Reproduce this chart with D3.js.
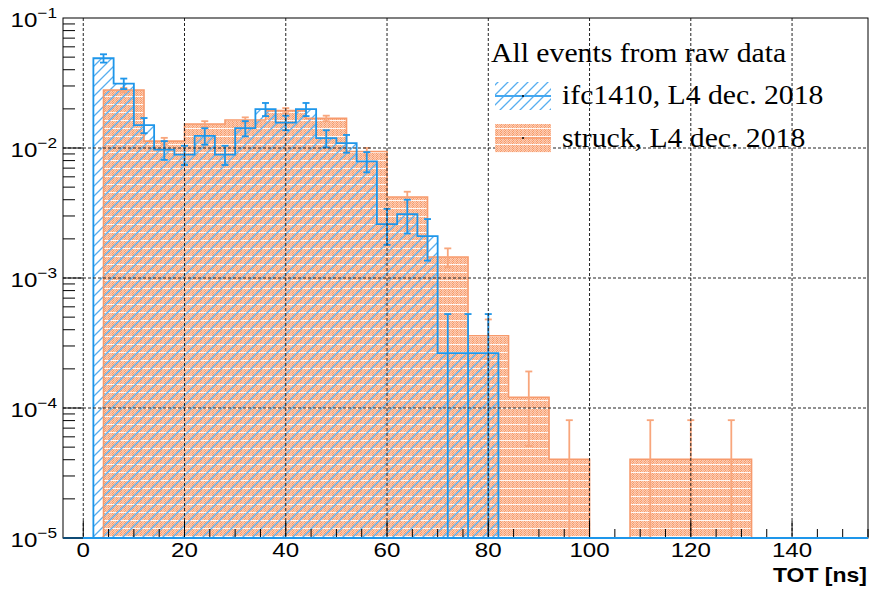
<!DOCTYPE html>
<html><head><meta charset="utf-8">
<script src="https://cdn.jsdelivr.net/npm/d3@7"></script>
<style>body{margin:0;background:#fff}</style></head>
<body><svg id="c" width="874" height="591"></svg>
<script>
// ---- data ----
const blueLabel = "ifc1410, L4 dec. 2018";
const orangeLabel = "struck, L4 dec. 2018";
const legendTitle = "All events from raw data";
const xTitle = "TOT [ns]";
const blueBinWidth = 4;
const blueBinLow = [2,6,10,14,18,22,26,30,34,38,42,46,50,54,58,62,66,70,74,78];
const blueValues = [0.049,0.0313,0.0150,0.0097,0.0089,0.0124,0.0089,0.0142,0.0199,0.0157,0.0199,0.0119,0.0109,0.0079,0.0026,0.0031,0.0021,0.000264,0.000264,0.000264];
const blueErrors = [0.0036,0.0029,0.0020,0.0016,0.0015,0.0018,0.0015,0.0019,0.0023,0.0020,0.0023,0.0018,0.0017,0.0014,0.0008,0.0009,0.00074,0.000264,0.000264,0.000264];
const orangeBinWidth = 8;
const orangeBinLow = [4,12,20,28,36,44,52,60,68,76,84,92,100,108,116,124];
const orangeValues = [0.0279,0.0113,0.0153,0.0164,0.0194,0.0169,0.0094,0.0042,0.00145,0.00036,0.000121,0.0000403,0,0.0000403,0.0000403,0.0000403];
const orangeErrors = [0.00106,0.00067,0.00078,0.00081,0.00088,0.00083,0.00061,0.00041,0.00024,0.00012,0.00007,0.0000403,0,0.0000403,0.0000403,0.0000403];
const xTicks = [0,20,40,60,80,100,120,140];
const yTicks = [1e-5,1e-4,1e-3,1e-2,1e-1];
const yTickLabels = ["\u22125","\u22124","\u22123","\u22122","\u22121"];

// ---- layout ----
const L = 63, R = 868, T = 18, B = 538;
const blueCol = "#1e96ea", blueHatch = "#56aef0";
const orangeLine = "#f79a6c", orangeErr = "#f8a67c";

const svg = d3.select("#c");
const x = d3.scaleLinear().domain([-4,155]).range([L,R]);
const y = d3.scaleLog().domain([1e-5,1e-1]).range([B,T]);
const yv = v => v > 0 ? Math.min(B, y(v)) : B;

const defs = svg.append("defs");
const hp = defs.append("pattern").attr("id","hatch").attr("patternUnits","userSpaceOnUse")
  .attr("width",10).attr("height",10);
hp.append("path").attr("d","M-1,1 L1,-1 M0,10 L10,0 M9,11 L11,9")
  .attr("stroke",blueHatch).attr("stroke-width",1.3).attr("fill","none");
const op = defs.append("pattern").attr("id","orng").attr("patternUnits","userSpaceOnUse")
  .attr("width",4).attr("height",8);
op.append("rect").attr("width",4).attr("height",8).attr("fill","#fdcdb4");
for (let r = 1; r < 8; r++) {
  op.append("rect").attr("x", r%2 ? 0 : 1).attr("y",r).attr("width",1).attr("height",1).attr("fill","#f69a68");
  op.append("rect").attr("x", r%2 ? 2 : 3).attr("y",r).attr("width",1).attr("height",1).attr("fill","#f9b08c");
}
op.append("rect").attr("x",0).attr("y",0).attr("width",4).attr("height",1).attr("fill","#fff").attr("opacity",0.85);
defs.append("clipPath").attr("id","clip").append("rect").attr("x",L).attr("y",T).attr("width",R-L).attr("height",B-T);

function stepPath(lows, vals, w) {
  let d = `M${x(lows[0])},${B}`;
  lows.forEach((lo,i) => {
    d += `L${x(lo)},${yv(vals[i])}L${x(lo+w)},${yv(vals[i])}`;
  });
  d += `L${x(lows[lows.length-1]+w)},${B}`;
  return d;
}

const g = svg.append("g").attr("clip-path","url(#clip)");
g.append("path").attr("d", stepPath(orangeBinLow, orangeValues, orangeBinWidth) + "Z").attr("fill","url(#orng)");
g.append("path").attr("d", stepPath(blueBinLow, blueValues, blueBinWidth) + "Z").attr("fill","url(#hatch)");

// grid
const grid = svg.append("g").attr("stroke","#222").attr("stroke-width",1).attr("stroke-dasharray","3,2");
xTicks.forEach(t => grid.append("line").attr("x1",x(t)).attr("x2",x(t)).attr("y1",T).attr("y2",B));
yTicks.slice(1,4).forEach(t => grid.append("line").attr("x1",L).attr("x2",R).attr("y1",y(t)).attr("y2",y(t)));

g.append("path").attr("d", stepPath(orangeBinLow, orangeValues, orangeBinWidth)).attr("fill","none")
  .attr("stroke",orangeLine).attr("stroke-width",1.6);
function errBars(lows, vals, errs, w, col, capW) {
  const eg = g.append("g").attr("stroke",col).attr("stroke-width",1.8).attr("fill","none");
  lows.forEach((lo,i) => {
    if (!(vals[i] > 0)) return;
    const cx = x(lo + w/2);
    const top = yv(vals[i] + errs[i]);
    const lowV = vals[i] - errs[i];
    const bot = lowV > 0 ? yv(lowV) : B;
    eg.append("line").attr("x1",cx).attr("x2",cx).attr("y1",top).attr("y2",bot);
    eg.append("line").attr("x1",cx-capW).attr("x2",cx+capW).attr("y1",top).attr("y2",top);
    if (lowV > 0) eg.append("line").attr("x1",cx-capW).attr("x2",cx+capW).attr("y1",bot).attr("y2",bot);
  });
}
errBars(orangeBinLow, orangeValues, orangeErrors, orangeBinWidth, orangeErr, 3.5);
g.append("path").attr("d", stepPath(blueBinLow, blueValues, blueBinWidth)).attr("fill","none")
  .attr("stroke",blueCol).attr("stroke-width",1.8);
errBars(blueBinLow, blueValues, blueErrors, blueBinWidth, blueCol, 3.5);

// frame
svg.append("rect").attr("x",L).attr("y",T).attr("width",R-L).attr("height",B-T)
  .attr("fill","none").attr("stroke","#000").attr("stroke-width",1);
svg.append("line").attr("x1",L).attr("x2",R).attr("y1",B).attr("y2",B).attr("stroke",blueCol).attr("stroke-width",2);

// ticks
const tk = svg.append("g").attr("stroke","#000").attr("stroke-width",1);
d3.range(0, 156, 5).forEach(t => {
  const len = (t % 20 === 0) ? 17 : 9;
  tk.append("line").attr("x1",x(t)).attr("x2",x(t)).attr("y1",B-1).attr("y2",B-len);
});
for (let e = -5; e <= -2; e++) {
  for (let m = 1; m <= 9; m++) {
    const v = m * Math.pow(10, e);
    tk.append("line").attr("x1",L).attr("x2",L + (m === 1 ? 20 : 12)).attr("y1",y(v)).attr("y2",y(v));
  }
}

// tick labels (horizontally stretched like the reference rendering)
const font = "'Liberation Sans', Arial, Helvetica, sans-serif";
const SX = 1.15;
xTicks.forEach(t => {
  svg.append("text").attr("transform",`translate(${x(t)},557) scale(${SX},1)`).attr("text-anchor","middle")
    .attr("font-family",font).attr("font-size",21).attr("fill","#000").text(t);
});
yTicks.forEach((t,i) => {
  const tx = svg.append("text").attr("transform",`translate(57,${y(t)+9}) scale(${SX},1)`).attr("text-anchor","end")
    .attr("font-family",font).attr("font-size",21).attr("fill","#000");
  tx.append("tspan").text("10");
  tx.append("tspan").attr("dy",-9).attr("font-size",15).text(yTickLabels[i]);
});
svg.append("text").attr("transform",`translate(867,582) scale(${SX},1)`).attr("text-anchor","end")
  .attr("font-family",font).attr("font-weight","bold").attr("font-size",20).text(xTitle);

// legend
const serif = "'Liberation Serif', 'Times New Roman', serif";
const LS = 1.1;
svg.append("text").attr("transform",`translate(491,62) scale(${LS},1)`).attr("font-family",serif).attr("font-size",27).text(legendTitle);
svg.append("rect").attr("x",495).attr("y",82).attr("width",56).attr("height",28).attr("fill","url(#hatch)");
svg.append("line").attr("x1",495).attr("x2",551).attr("y1",96).attr("y2",96).attr("stroke","#45a8f0").attr("stroke-width",2);
svg.append("circle").attr("cx",523).attr("cy",96).attr("r",1).attr("fill","#000");
svg.append("text").attr("transform",`translate(562,104) scale(${LS},1)`).attr("font-family",serif).attr("font-size",27).text(blueLabel);
svg.append("rect").attr("x",495).attr("y",124).attr("width",56).attr("height",29).attr("fill","url(#orng)");
svg.append("line").attr("x1",495).attr("x2",551).attr("y1",138).attr("y2",138).attr("stroke",orangeLine).attr("stroke-width",1.5);
svg.append("circle").attr("cx",523).attr("cy",138).attr("r",1).attr("fill","#000");
svg.append("text").attr("transform",`translate(562,147) scale(${LS},1)`).attr("font-family",serif).attr("font-size",27).text(orangeLabel);
</script></body></html>
